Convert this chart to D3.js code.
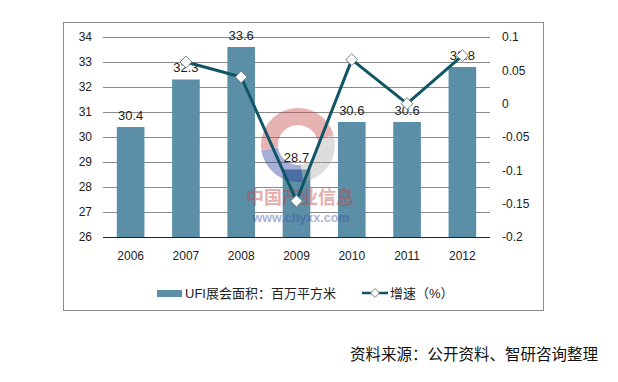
<!DOCTYPE html>
<html><head><meta charset="utf-8">
<script src="https://cdn.jsdelivr.net/npm/d3@7"></script>
<style>
body{margin:0;background:#fff;}
svg{display:block;}
text{font-family:"Liberation Sans",Arial,"Noto Sans CJK SC",sans-serif;}
</style></head>
<body><svg id="c" width="618" height="382"></svg>
<script>
const years = ["2006","2007","2008","2009","2010","2011","2012"];
const area = [30.4, 32.3, 33.6, 28.7, 30.6, 30.6, 32.8];
const growth = [null, 0.0625, 0.040, -0.146, 0.066, 0.0, 0.072];
const leftTicks = [26,27,28,29,30,31,32,33,34];
const rightTicks = [0.1,0.05,0,-0.05,-0.1,-0.15,-0.2];
const legendLabels = ["UFI展会面积：百万平方米","增速（%）"];
const sourceText = "资料来源：公开资料、智研咨询整理";

const svg = d3.select("#c");
const L = 103, R = 490, T = 37, B = 237;
const barColor = "#5b8fa8", lineColor = "#0f5565";

// frame
svg.append("rect").attr("x",63.5).attr("y",22.5).attr("width",480).attr("height",288)
  .attr("fill","none").attr("stroke","#8c8c8c").attr("stroke-width",1);

const x = d3.scaleBand().domain(years).range([L,R]).paddingInner(0.5).paddingOuter(0.25);
const yL = d3.scaleLinear().domain([26,34]).range([B,T]);
const yR = d3.scaleLinear().domain([-0.2,0.1]).range([B,T]);

// grid
svg.append("g").selectAll("line").data(leftTicks.filter(d=>d>26)).join("line")
  .attr("x1",L).attr("x2",R).attr("y1",d=>Math.round(yL(d))+0.5).attr("y2",d=>Math.round(yL(d))+0.5)
  .attr("stroke","#8a8a8a").attr("stroke-width",1);

// bars
svg.append("g").selectAll("rect").data(years).join("rect")
  .attr("x",d=>x(d)).attr("width",x.bandwidth())
  .attr("y",(d,i)=>yL(area[i])).attr("height",(d,i)=>B-yL(area[i]))
  .attr("fill",barColor);

// watermark (semi-transparent, over bars)
const wm = svg.append("g").attr("opacity",0.42);
const cx = 298, cy = 145;
const arc = d3.arc().innerRadius(20).outerRadius(37);
wm.append("path").attr("transform",`translate(${cx},${cy})`).attr("d",arc({startAngle:-1.7,endAngle:1.3})).attr("fill","#c44a4a");
wm.append("path").attr("transform",`translate(${cx},${cy})`).attr("d",arc({startAngle:1.3,endAngle:3.0})).attr("fill","#b0b0b0");
wm.append("path").attr("transform",`translate(${cx},${cy})`).attr("d",arc({startAngle:3.0,endAngle:4.58})).attr("fill","#33439e");
wm.append("text").attr("x",300).attr("y",198).attr("dy","0.35em").attr("text-anchor","middle")
  .attr("font-size",18).attr("font-weight","bold").attr("fill","#c24040")
  .style("font-family","'Noto Sans CJK SC',sans-serif").text("中国产业信息");
wm.append("text").attr("x",301).attr("y",218).attr("dy","0.35em").attr("text-anchor","middle")
  .attr("font-size",12.5).attr("font-weight","bold").attr("fill","#3a4aa8").text("www.chyxx.com");

// bottom axis line
svg.append("line").attr("x1",L).attr("x2",R).attr("y1",B+0.5).attr("y2",B+0.5).attr("stroke","#222").attr("stroke-width",1.2);

// left ticks
svg.append("g").selectAll("text").data(leftTicks).join("text")
  .attr("x",92).attr("y",d=>yL(d)).attr("dy","0.35em").attr("text-anchor","end")
  .attr("font-size",12).attr("fill","#222").text(d=>d);
// right ticks
svg.append("g").selectAll("text").data(rightTicks).join("text")
  .attr("x",502).attr("y",d=>yR(d)).attr("dy","0.35em").attr("text-anchor","start")
  .attr("font-size",12).attr("fill","#222").text(d=>d);
// x labels
svg.append("g").selectAll("text").data(years).join("text")
  .attr("x",d=>x(d)+x.bandwidth()/2).attr("y",256).attr("dy","0.35em").attr("text-anchor","middle")
  .attr("font-size",12).attr("fill","#222").text(d=>d);

// bar value labels
svg.append("g").selectAll("text").data(years).join("text")
  .attr("x",d=>x(d)+x.bandwidth()/2).attr("y",(d,i)=>yL(area[i])-12).attr("dy","0.35em")
  .attr("text-anchor","middle").attr("font-size",13).attr("fill","#222").text((d,i)=>area[i]);

// line
const pts = years.map((d,i)=>({d, v:growth[i]})).filter(p=>p.v!==null);
const line = d3.line().x(p=>x(p.d)+x.bandwidth()/2).y(p=>yR(p.v));
svg.append("path").datum(pts).attr("d",line).attr("fill","none")
  .attr("stroke",lineColor).attr("stroke-width",3).attr("stroke-linejoin","round");
svg.append("g").selectAll("path").data(pts).join("path")
  .attr("d",d3.symbol().type(d3.symbolSquare).size(70)())
  .attr("transform",p=>`translate(${x(p.d)+x.bandwidth()/2},${yR(p.v)}) rotate(45)`)
  .attr("fill","#fff").attr("stroke","#5a6a70").attr("stroke-width",0.8);

// legend
const lg = svg.append("g").style("font-family","'Noto Sans CJK SC','Liberation Sans',sans-serif");
lg.append("rect").attr("x",157).attr("y",290).attr("width",25).attr("height",7).attr("fill",barColor);
lg.append("text").attr("x",185).attr("y",293.5).attr("dy","0.35em").attr("font-size",13).attr("fill","#222").text(legendLabels[0]);
lg.append("line").attr("x1",362).attr("x2",388).attr("y1",293).attr("y2",293).attr("stroke",lineColor).attr("stroke-width",2.5);
lg.append("path").attr("transform","translate(375,293) rotate(45)").attr("d",d3.symbol().type(d3.symbolSquare).size(40)())
  .attr("fill","#fff").attr("stroke","#5a6a70").attr("stroke-width",0.8);
lg.append("text").attr("x",390).attr("y",293.5).attr("dy","0.35em").attr("font-size",13).attr("fill","#222").text(legendLabels[1]);

// source
svg.append("text").attr("x",598).attr("y",355).attr("dy","0.35em").attr("text-anchor","end")
  .attr("font-size",15.5).attr("fill","#111").style("font-family","'Noto Sans CJK SC',sans-serif").text(sourceText);
</script></body></html>
